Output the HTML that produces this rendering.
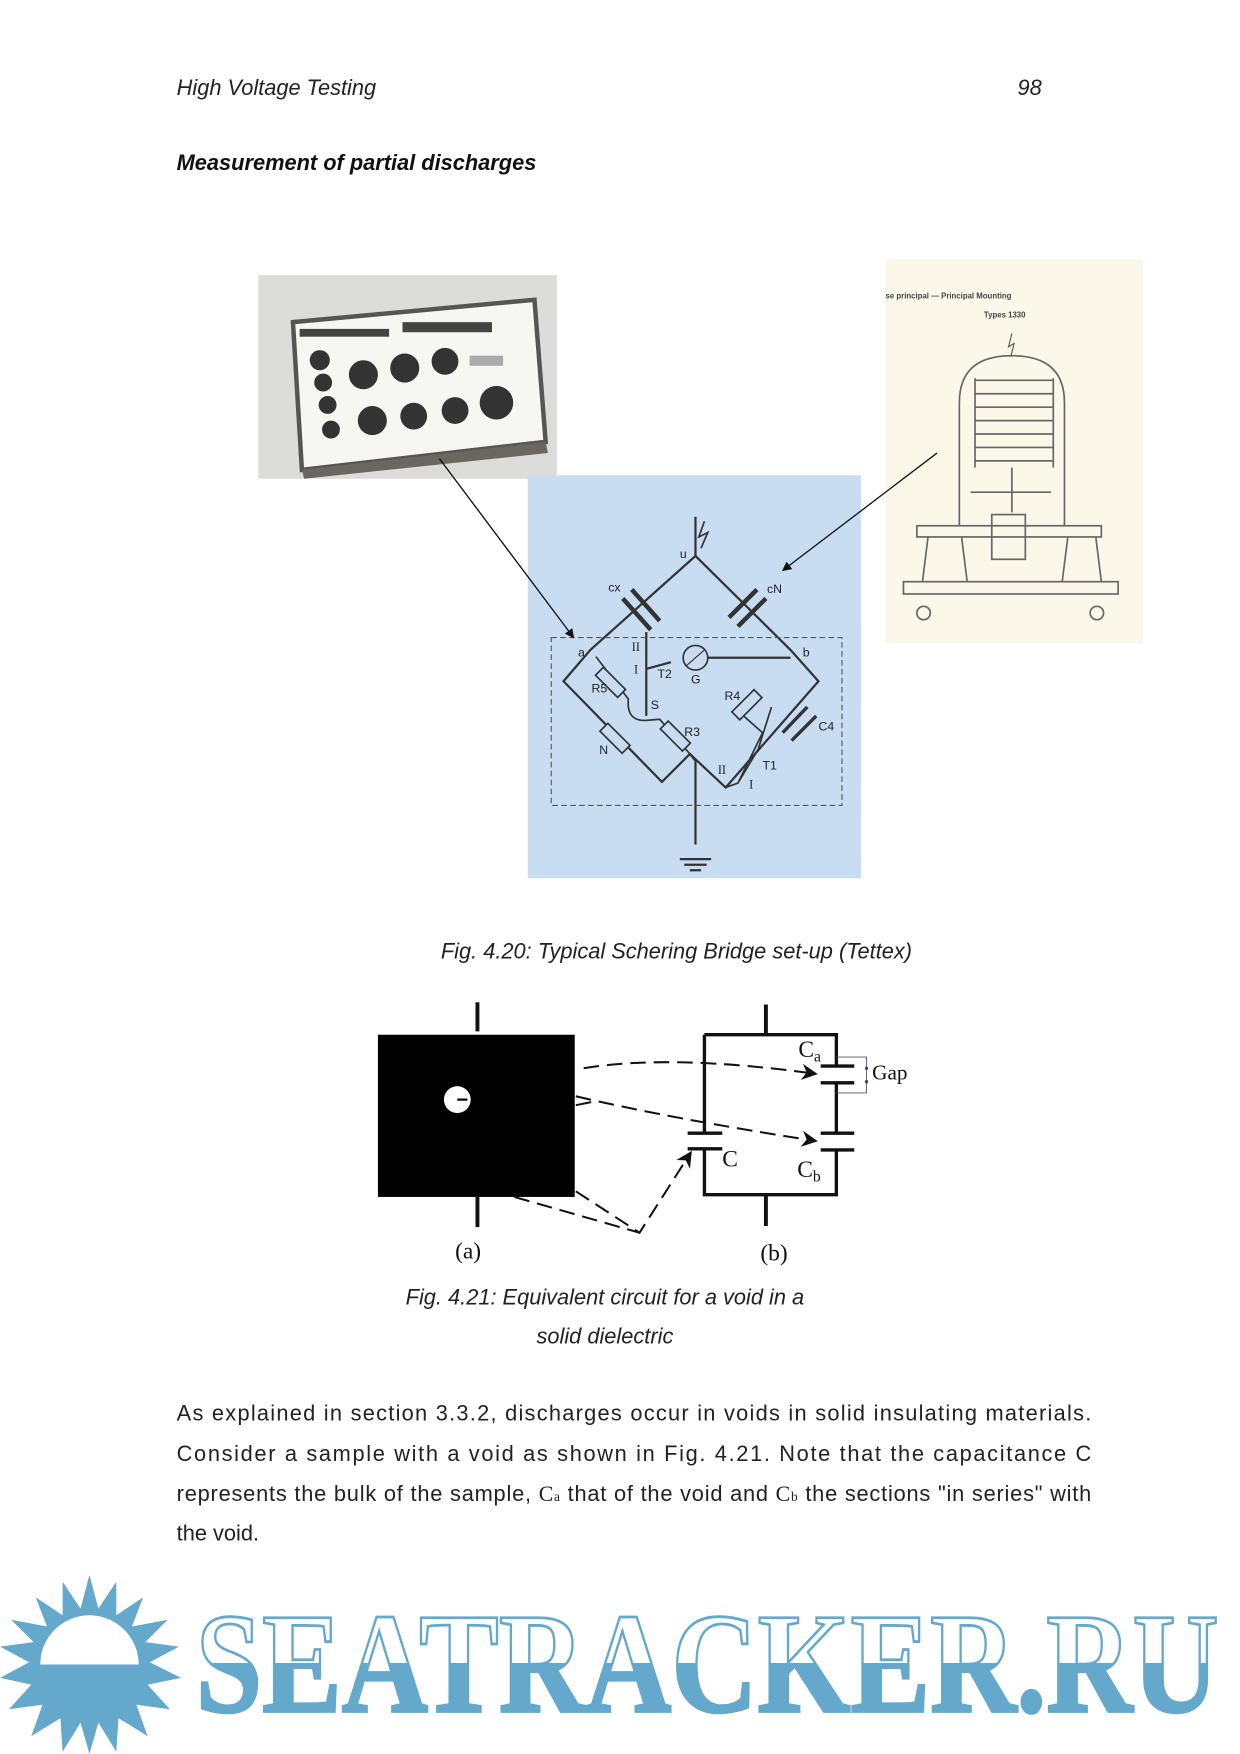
<!DOCTYPE html>
<html><head><meta charset="utf-8"><style>
html,body{margin:0;padding:0;background:#fff}
svg{display:block}
text{font-family:"Liberation Sans",sans-serif}
.s{font-family:"Liberation Serif",serif}
</style></head><body>
<svg width="1240" height="1754" viewBox="0 0 1109 1568" preserveAspectRatio="none" xmlns="http://www.w3.org/2000/svg">
<defs>
<linearGradient id="wm" x1="0" y1="0" x2="0" y2="1">
<stop offset="0.5" stop-color="#fff"/><stop offset="0.5" stop-color="#64a8cc"/>
</linearGradient>
<marker id="ah" viewBox="0 0 10 10" refX="9" refY="5" markerWidth="7" markerHeight="7" orient="auto"><path d="M0,0L10,5L0,10z" fill="#111"/></marker>
<marker id="ab" viewBox="0 0 10 10" refX="9" refY="5" markerWidth="10" markerHeight="8" orient="auto"><path d="M0,0L10,5L0,10L3,5z" fill="#111"/></marker>
</defs>
<rect width="1109" height="1568" fill="#fff"/>
<text x="158" y="85" font-size="19.5" font-style="italic" fill="#222">High Voltage Testing</text>
<text x="910" y="85" font-size="19.5" font-style="italic" fill="#222">98</text>
<text x="158" y="152" font-size="19.5" font-style="italic" font-weight="bold" fill="#111">Measurement of partial discharges</text>

<!-- photo 1 -->
<rect x="231" y="246" width="267" height="182" fill="#dcdcda"/>
<polygon points="262,288 478,268 488,395 270,420" fill="#f6f6f2" stroke="#555" stroke-width="4"/>
<polygon points="270,420 488,395 490,405 272,428" fill="#6a6660"/>
<g fill="#333">
<circle cx="286" cy="322" r="9"/><circle cx="289" cy="342" r="8"/><circle cx="293" cy="362" r="8"/><circle cx="296" cy="384" r="8"/>
<circle cx="325" cy="335" r="13"/><circle cx="362" cy="329" r="13"/><circle cx="398" cy="323" r="12"/>
<circle cx="333" cy="376" r="13"/><circle cx="370" cy="372" r="12"/><circle cx="407" cy="367" r="12"/><circle cx="444" cy="360" r="15"/>
</g>
<g fill="#444"><rect x="268" y="294" width="80" height="7"/><rect x="360" y="288" width="80" height="9"/></g>
<rect x="420" y="318" width="30" height="9" fill="#aaa"/>

<!-- right drawing -->
<rect x="792" y="232" width="230" height="343" fill="#fbf8ea"/>
<text x="792" y="267" font-size="7" fill="#444" font-weight="bold">se principal  —  Principal  Mounting</text>
<text x="880" y="284" font-size="7" fill="#444" font-weight="bold">Types 1330</text>
<path d="M905,298 l-3,12 5,-3 -3,12" fill="none" stroke="#555"/>
<g fill="none" stroke="#666" stroke-width="1.5">
<path d="M858,470 L858,360 Q858,318 905,318 Q952,318 952,360 L952,470"/>
<path d="M872,412 h70 M872,400h70 M872,388h70 M872,376h70 M872,364h70 M872,352h70 M872,340h70"/>
<path d="M872,338 v80 M942,338 v80 M905,418 v40 M868,440 h72"/>
<rect x="820" y="470" width="165" height="10"/>
<path d="M830,480 l-5,40 M860,480 l5,40 M955,480 l-5,40 M980,480 l5,40"/>
<rect x="808" y="520" width="192" height="11"/>
<rect x="887" y="460" width="30" height="40"/>
<circle cx="826" cy="548" r="6"/><circle cx="981" cy="548" r="6"/>
</g>

<!-- blue panel -->
<rect x="472" y="425" width="298" height="360" fill="#c8dcf2"/>
<g fill="none" stroke="#333" stroke-width="2">
<path d="M622,462 V497 L528,581 L504,609 L592,699 L617,674 L622,680 V755"/>
<path d="M622,497 L707,581 L732,609 L649,704 L617,674"/>
<line x1="565" y1="527" x2="590" y2="555" stroke-width="4"/>
<line x1="557" y1="535" x2="582" y2="563" stroke-width="4"/>
<line x1="652" y1="552" x2="677" y2="527" stroke-width="4"/>
<line x1="660" y1="560" x2="685" y2="535" stroke-width="4"/>
<line x1="700" y1="655" x2="722" y2="632" stroke-width="3"/>
<line x1="708" y1="662" x2="730" y2="640" stroke-width="3"/>
<path d="M578,565 V640 M578,598 L600,592 M633,588 H707"/>
<circle cx="622" cy="588" r="11" stroke-width="1.5"/>
<path d="M614,595 L630,581" stroke-width="1"/>
<path d="M533,587 L562,625 Q560,645 578,644 L590,643 L617,674" stroke-width="1.5"/>
<path d="M665,640 L682,655 L660,700 M690,632 L678,670 L660,700 L649,704" stroke-width="1.5"/>
<path d="M608,768 h28 M612,773 h20 M617,778 h10"/>
</g>
<g fill="#c8dcf2" stroke="#333" stroke-width="1.5">
<rect x="-14" y="-5" width="28" height="10" transform="translate(546,610) rotate(45)"/>
<rect x="-14" y="-5" width="28" height="10" transform="translate(550,660) rotate(45)"/>
<rect x="-14" y="-5" width="28" height="10" transform="translate(604,658) rotate(45)"/>
<rect x="-14" y="-5" width="28" height="10" transform="translate(668,630) rotate(-45)"/>
</g>
<rect x="493" y="570" width="260" height="150" fill="none" stroke="#555" stroke-dasharray="5,3"/>
<g font-size="11" fill="#222">
<text x="608" y="499">u</text><text x="544" y="529">cx</text><text x="686" y="530">cN</text>
<text x="517" y="587">a</text><text x="718" y="587">b</text><text x="565" y="582" class="s">II</text><text x="567" y="602" class="s">I</text>
<text x="588" y="606">T2</text><text x="618" y="611">G</text><text x="529" y="619">R5</text><text x="582" y="634">S</text>
<text x="648" y="626">R4</text><text x="612" y="658">R3</text><text x="732" y="653">C4</text><text x="536" y="674">N</text>
<text x="642" y="692" class="s">II</text><text x="682" y="688">T1</text><text x="670" y="705" class="s">I</text>
</g>
<path d="M630,466 l-5,14 8,-4 -6,14" fill="none" stroke="#333" stroke-width="1.5"/>

<line x1="393" y1="410" x2="513" y2="570" stroke="#111" stroke-width="1.2" marker-end="url(#ah)"/>
<line x1="838" y1="405" x2="700" y2="510" stroke="#111" stroke-width="1.2" marker-end="url(#ah)"/>

<text x="605" y="857" font-size="19.5" font-style="italic" fill="#222" text-anchor="middle">Fig. 4.20: Typical Schering Bridge set-up (Tettex)</text>

<!-- fig 4.21 -->
<rect x="338" y="925" width="176" height="145" fill="#000"/>
<circle cx="409" cy="983" r="12" fill="#fff"/>
<line x1="409" y1="983" x2="418" y2="983" stroke="#000" stroke-width="2"/>
<g stroke="#111" stroke-width="3.5">
<line x1="427" y1="896" x2="427" y2="922"/><line x1="427" y1="1070" x2="427" y2="1097"/>
<line x1="685" y1="898" x2="685" y2="925"/><line x1="685" y1="1068" x2="685" y2="1096"/>
</g>
<g fill="none" stroke="#111" stroke-width="3">
<path d="M630,925 H748 V953 M748,968 V1013 M748,1028 V1068 H630 V1028 M630,1013 V925"/>
<path d="M615,1013 H646 M615,1027 H646 M734,953 H764 M734,968 H764 M734,1013 H764 M734,1028 H764"/>
</g>
<path d="M748,945 H775 V977 H748" fill="none" stroke="#555" stroke-width="0.8"/>
<circle cx="775" cy="955" r="1.5" fill="#355"/><circle cx="775" cy="967" r="1.5" fill="#355"/>
<g fill="none" stroke="#111" stroke-width="1.8" stroke-dasharray="14,7">
<path d="M522,955 Q600,942 730,960" marker-end="url(#ab)"/>
<path d="M515,980 Q600,1000 730,1020" marker-end="url(#ab)"/>
<path d="M515,1065 L572,1102 L618,1030" marker-end="url(#ab)"/>
<path d="M460,1070 L572,1102"/>
<path d="M515,988 L530,985"/>
</g>
<g class="s" font-size="21" fill="#111">
<text x="714" y="945" class="s">C<tspan font-size="14" dy="4">a</tspan></text>
<text x="780" y="965" class="s" font-size="19">Gap</text>
<text x="646" y="1043" class="s">C</text>
<text x="713" y="1052" class="s">C<tspan font-size="14" dy="4">b</tspan></text>
<text x="407" y="1125" class="s">(a)</text>
<text x="680" y="1127" class="s">(b)</text>
</g>
<text x="541" y="1166" font-size="19.5" font-style="italic" fill="#222" text-anchor="middle">Fig. 4.21: Equivalent circuit for a void in a</text>
<text x="541" y="1201" font-size="19.5" font-style="italic" fill="#222" text-anchor="middle">solid dielectric</text>

<g font-size="19.5" fill="#222">
<text x="158" y="1270" textLength="818" lengthAdjust="spacing">As explained in section 3.3.2, discharges occur in voids in solid insulating materials.</text>
<text x="158" y="1306" textLength="818" lengthAdjust="spacing">Consider a sample with a void as shown in Fig. 4.21.  Note that the capacitance C</text>
<text x="158" y="1342" textLength="818" lengthAdjust="spacing">represents the bulk of the sample, <tspan class="s">C<tspan font-size="12">a</tspan></tspan> that of the void and <tspan class="s">C<tspan font-size="12">b</tspan></tspan> the sections "in series" with</text>
<text x="158" y="1377">the void.</text>
</g>

<!-- watermark -->
<g fill="#64a8cc">
<polygon points="80,1408 88,1438 104,1414 104,1444 128,1428 118,1454 150,1448 130,1468 160,1472 134,1486 162,1500 132,1506 152,1528 122,1524 132,1552 106,1536 104,1566 88,1540 80,1568 72,1540 56,1566 54,1536 28,1552 38,1524 8,1528 28,1506 0,1500 26,1486 0,1472 30,1468 10,1448 42,1454 32,1428 56,1444 56,1414 72,1438"/>
</g>
<path d="M36,1488 A44,44 0 0 1 124,1488 Z" fill="#fff"/>
<text x="175" y="1530" class="s" font-size="128" font-weight="bold" fill="url(#wm)" stroke="#64a8cc" stroke-width="2.5" textLength="915" lengthAdjust="spacingAndGlyphs">SEATRACKER.RU</text>
</svg>
</body></html>
